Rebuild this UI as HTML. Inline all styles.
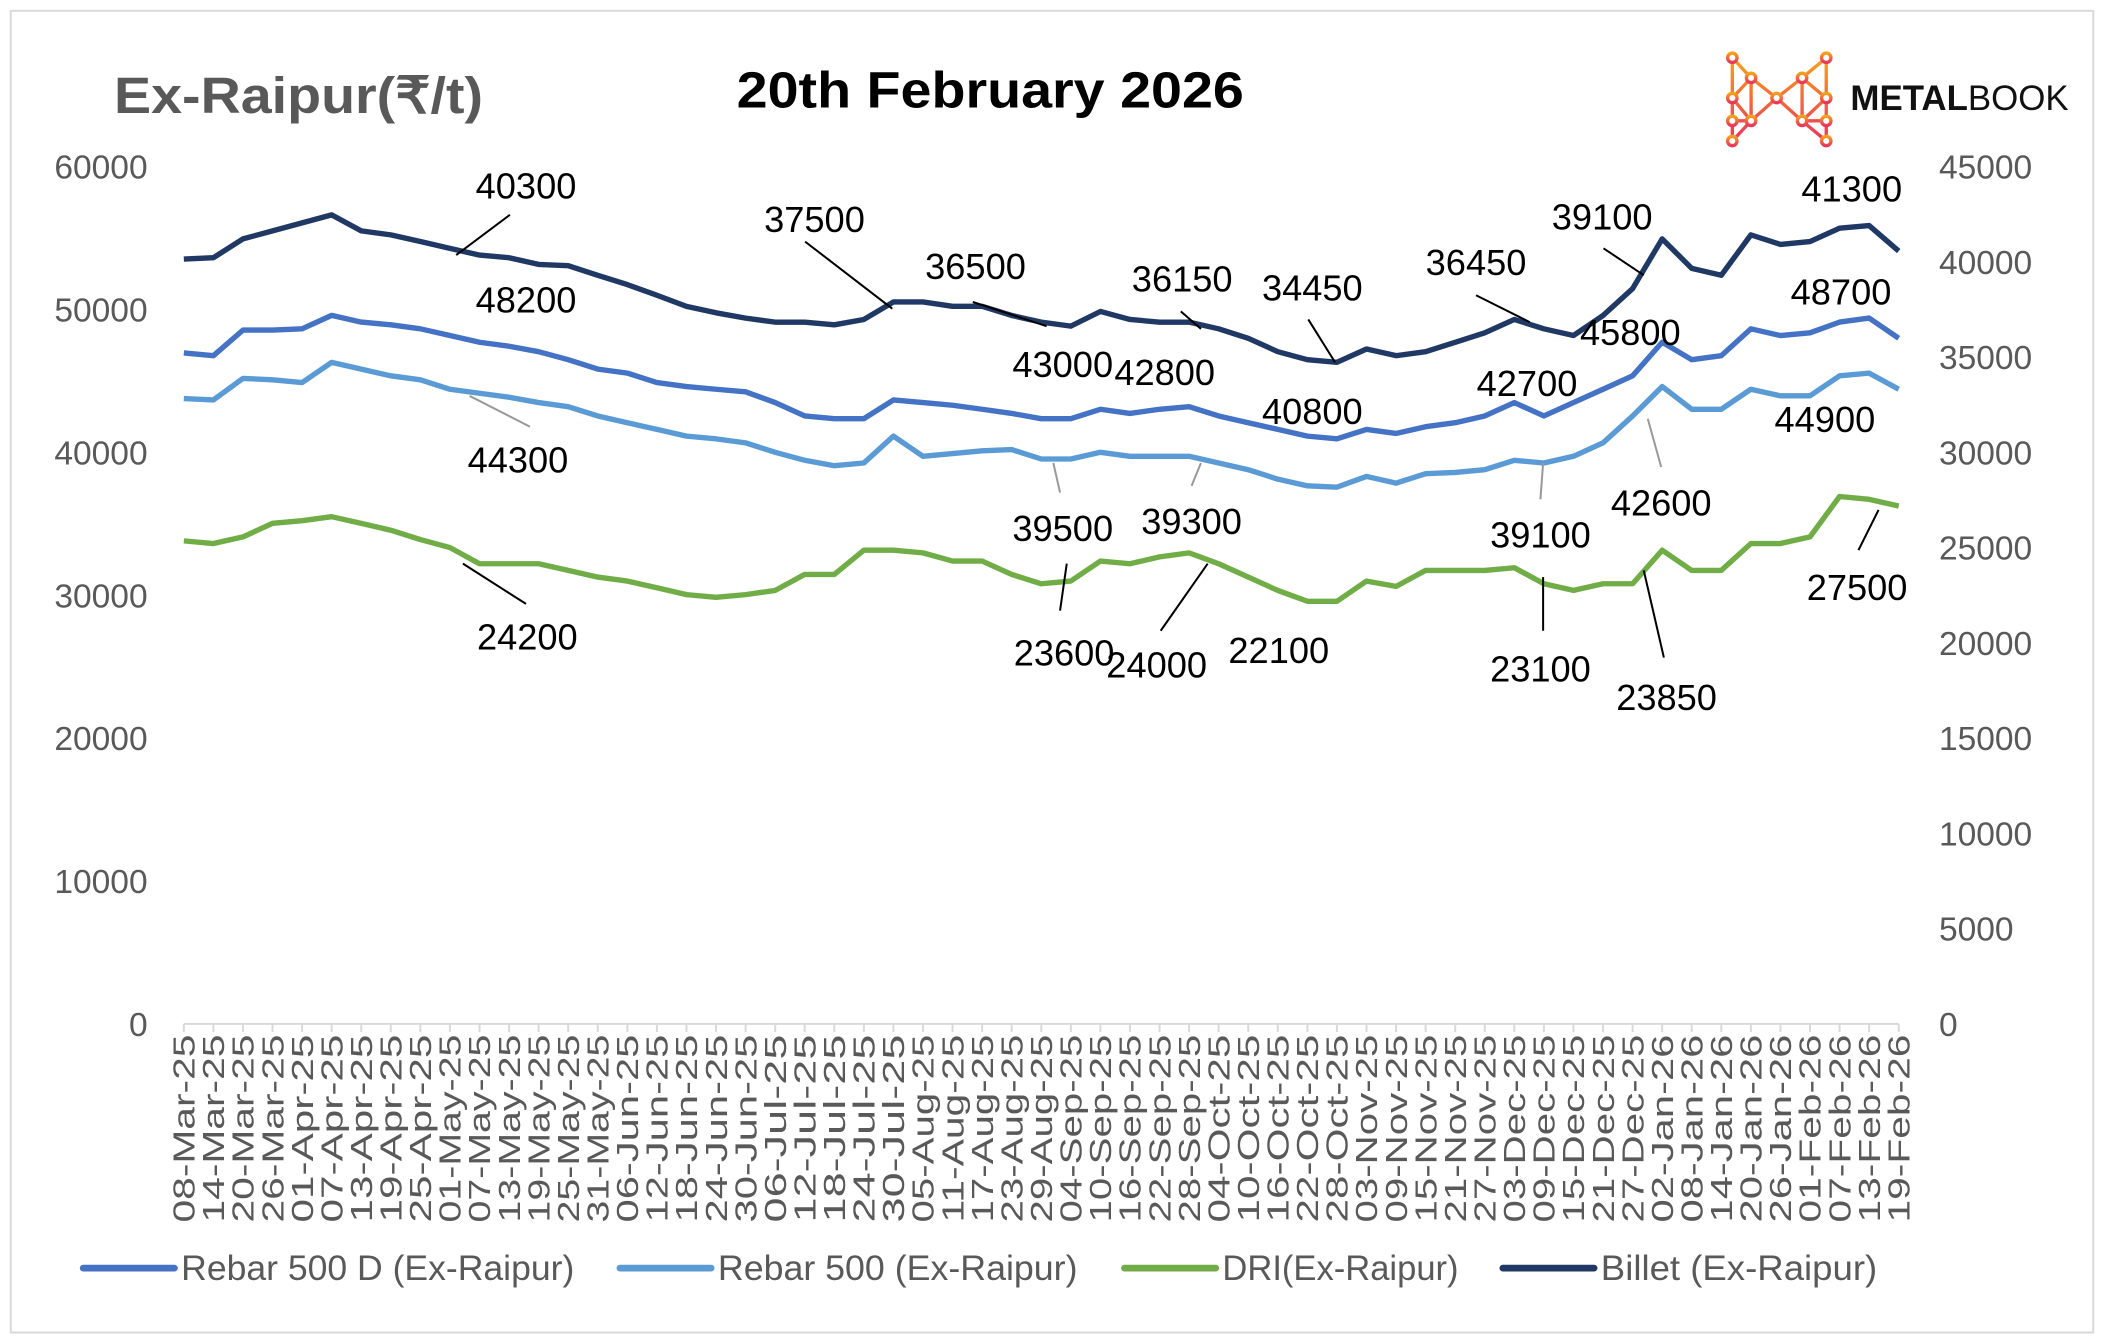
<!DOCTYPE html>
<html><head><meta charset="utf-8"><style>
html,body{margin:0;padding:0;background:#fff;}
svg{display:block;font-family:"Liberation Sans",sans-serif;}
</style></head><body>
<svg id="chart" width="2104" height="1342" viewBox="0 0 1568 1000" xmlns="http://www.w3.org/2000/svg">
<rect x="8" y="8" width="1552" height="985" fill="#fff" stroke="#d9d9d9" stroke-width="1.5"/>
<text x="85" y="84" font-size="38" font-weight="bold" fill="#595959" textLength="275" lengthAdjust="spacingAndGlyphs">Ex-Raipur(₹/t)</text>
<text x="738" y="80" font-size="38" font-weight="bold" fill="#000" text-anchor="middle" textLength="378" lengthAdjust="spacingAndGlyphs">20th February 2026</text>
<g>
<defs><linearGradient id="lg" x1="0" y1="0" x2="0" y2="1"><stop offset="0" stop-color="#f7a21b"/><stop offset="1" stop-color="#e8365d"/></linearGradient></defs>
<g stroke="url(#lg)" stroke-width="2.5" fill="#fff">
<path d="M1291,43 L1291,105 M1291,43 L1305,58 L1324,73 L1343,58 L1361,43 L1361,105 M1305,58 L1305,90 M1343,58 L1343,90 M1291,73 L1305,90 L1324,73 L1343,90 L1361,73 M1291,73 L1305,58 M1361,73 L1343,58 M1291,105 L1305,90 M1361,105 L1343,90 M1291,90 L1305,90 M1343,90 L1361,90" fill="none"/>
<circle cx="1291" cy="43" r="3.5"/><circle cx="1361" cy="43" r="3.5"/><circle cx="1305" cy="58" r="3.5"/><circle cx="1343" cy="58" r="3.5"/><circle cx="1291" cy="73" r="3.5"/><circle cx="1324" cy="73" r="3.5"/><circle cx="1361" cy="73" r="3.5"/><circle cx="1305" cy="90" r="3.5"/><circle cx="1343" cy="90" r="3.5"/><circle cx="1291" cy="90" r="3.5"/><circle cx="1361" cy="90" r="3.5"/><circle cx="1291" cy="105" r="3.5"/><circle cx="1361" cy="105" r="3.5"/>
</g>
<text x="1379" y="82" font-size="26" fill="#111"><tspan font-weight="bold">METAL</tspan>BOOK</text>
</g>
<g id="axes"></g>
<g id="series"></g>
<g id="annos" font-size="27" fill="#000" text-anchor="middle"></g>
<g id="legend" font-size="26" fill="#595959"></g>
</svg>
<script>
const dates = ["08-Mar-25","14-Mar-25","20-Mar-25","26-Mar-25","01-Apr-25","07-Apr-25","13-Apr-25","19-Apr-25","25-Apr-25","01-May-25","07-May-25","13-May-25","19-May-25","25-May-25","31-May-25","06-Jun-25","12-Jun-25","18-Jun-25","24-Jun-25","30-Jun-25","06-Jul-25","12-Jul-25","18-Jul-25","24-Jul-25","30-Jul-25","05-Aug-25","11-Aug-25","17-Aug-25","23-Aug-25","29-Aug-25","04-Sep-25","10-Sep-25","16-Sep-25","22-Sep-25","28-Sep-25","04-Oct-25","10-Oct-25","16-Oct-25","22-Oct-25","28-Oct-25","03-Nov-25","09-Nov-25","15-Nov-25","21-Nov-25","27-Nov-25","03-Dec-25","09-Dec-25","15-Dec-25","21-Dec-25","27-Dec-25","02-Jan-26","08-Jan-26","14-Jan-26","20-Jan-26","26-Jan-26","01-Feb-26","07-Feb-26","13-Feb-26","19-Feb-26"];
const rebar500D = [46950,46760,48550,48550,48640,49580,49110,48920,48640,48170,47700,47420,47040,46480,45820,45540,44880,44600,44410,44230,43480,42540,42350,42350,43660,43480,43290,43010,42720,42350,42350,43010,42720,43010,43190,42540,42070,41600,41130,40940,41600,41320,41790,42070,42540,43480,42540,43480,44410,45350,47700,46480,46760,48640,48170,48360,49110,49390,47980];
const rebar500 = [43760,43660,45170,45070,44880,46290,45820,45350,45070,44410,44130,43850,43480,43190,42540,42070,41600,41130,40940,40660,40000,39440,39060,39250,41130,39720,39910,40100,40190,39530,39530,40000,39720,39720,39720,39250,38780,38120,37650,37560,38310,37840,38500,38590,38780,39440,39250,39720,40660,42540,44600,43010,43010,44410,43950,43950,45350,45540,44410];
const dri = [25350,25210,25560,26270,26410,26620,26270,25910,25420,25000,24150,24150,24150,23800,23450,23240,22890,22530,22390,22530,22750,23590,23590,24860,24860,24720,24290,24290,23590,23100,23240,24290,24150,24510,24720,24150,23450,22750,22180,22180,23240,22960,23800,23800,23800,23940,23100,22750,23100,23100,24860,23800,23800,25210,25210,25560,27680,27530,27180];
const billet = [40140,40210,41200,41620,42040,42460,41620,41410,41060,40700,40350,40210,39860,39790,39290,38800,38240,37660,37320,37040,36830,36830,36690,36970,37890,37890,37660,37660,37180,36830,36620,37390,36970,36830,36830,36480,35980,35280,34860,34720,35420,35070,35280,35770,36270,36970,36480,36130,37180,38590,41200,39650,39290,41410,40910,41060,41760,41900,40560];
const leftTicks = [0,10000,20000,30000,40000,50000,60000];
const rightTicks = [0,5000,10000,15000,20000,25000,30000,35000,40000,45000];
const annoText = ["40300","48200","44300","37500","36500","43000","42800","39500","39300","36150","34450","40800","36450","39100","45800","42700","39100","42600","41300","48700","44900","27500","24200","23600","24000","22100","23100","23850"];

const NS="http://www.w3.org/2000/svg";
const X0=137,X1=1415,Y0=763,YT=124;
const xS=i=>X0+i*(X1-X0)/(dates.length-1);
const yL=v=>Y0-v/60000*(Y0-YT);
const yR=v=>Y0-v/45000*(Y0-YT);
function mk(tag,attrs,parent){const e=document.createElementNS(NS,tag);for(const k in attrs)e.setAttribute(k,attrs[k]);parent.appendChild(e);return e;}
const axes=document.getElementById('axes');
leftTicks.forEach(v=>{const t=mk('text',{x:110,y:yL(v)+9,'font-size':25,fill:'#595959','text-anchor':'end'},axes);t.textContent=v;

});
rightTicks.forEach(v=>{const t=mk('text',{x:1445,y:yR(v)+9,'font-size':25,fill:'#595959'},axes);t.textContent=v;

});
const ax=mk('line',{x1:X0,y1:Y0,x2:X1,y2:Y0,stroke:'#d9d9d9','stroke-width':1.5},axes);


dates.forEach((d,i)=>{const x=xS(i);
mk('line',{x1:x,y1:Y0,x2:x,y2:Y0+6,stroke:'#d9d9d9','stroke-width':1.5},axes);
const t=mk('text',{x:0,y:0,'font-size':23,fill:'#595959','text-anchor':'end',textLength:140,lengthAdjust:'spacingAndGlyphs',transform:`translate(${x+8},${Y0+8}) rotate(-90)`},axes);t.textContent=d;

});
const ser=document.getElementById('series');
function line(data,sc,col,name){const p=mk('polyline',{points:data.map((v,i)=>xS(i)+','+sc(v)).join(' '),fill:'none',stroke:col,'stroke-width':4,'stroke-linejoin':'round'},ser);

}
line(dri,yR,'#70AD47','dri-line');
line(rebar500,yL,'#5B9BD5','rebar-500-line');
line(rebar500D,yL,'#4472C4','rebar-500d-line');
line(billet,yR,'#203864','billet-line');
const annoPos=[[392,148],[392,233],[386,352],[607,173],[727,208],[792,281],[868,287],[792,403],[888,398],[881,217],[978,224],[978,316],[1100,205],[1194,171],[1215,257],[1138,295],[1148,408],[1238,384],[1380,150],[1372,227],[1360,322],[1384,447],[393,484],[793,496],[862,505],[953,494],[1148,508],[1242,529]];
const an=document.getElementById('annos');
annoText.forEach((s,i)=>{const t=mk('text',{x:annoPos[i][0],y:annoPos[i][1]},an);t.textContent=s;

});
const leaders=[[340,190,380,160,'#000'],[350,295,395,318,'#999'],[600,180,665,230,'#000'],[725,225,780,243,'#000'],[785,345,790,367,'#999'],[895,345,888,362,'#999'],[880,232,895,245,'#000'],[975,238,995,270,'#000'],[1100,220,1140,240,'#000'],[1195,185,1225,205,'#000'],[1150,345,1148,372,'#999'],[1228,312,1238,348,'#999'],[1385,410,1400,380,'#000'],[345,420,392,450,'#000'],[790,455,795,420,'#000'],[865,470,900,420,'#000'],[1150,470,1150,430,'#000'],[1240,490,1225,425,'#000']];
leaders.forEach(l=>{const e=mk('line',{x1:l[0],y1:l[1],x2:l[2],y2:l[3],stroke:l[4],'stroke-width':1.5},an);

});
const lg=document.getElementById('legend');
const legItems=[["Rebar 500 D (Ex-Raipur)",'#4472C4',62,293],["Rebar 500 (Ex-Raipur)",'#5B9BD5',462,268],["DRI(Ex-Raipur)",'#70AD47',838,176],["Billet (Ex-Raipur)",'#203864',1120,206]];
legItems.forEach(it=>{const g=mk('g',{},lg);


mk('line',{x1:it[2],y1:945,x2:it[2]+68,y2:945,stroke:it[1],'stroke-width':5,'stroke-linecap':'round'},g);
const t=mk('text',{x:it[2]+73,y:954,textLength:it[3],lengthAdjust:'spacingAndGlyphs'},g);t.textContent=it[0];});
</script>
</body></html>
